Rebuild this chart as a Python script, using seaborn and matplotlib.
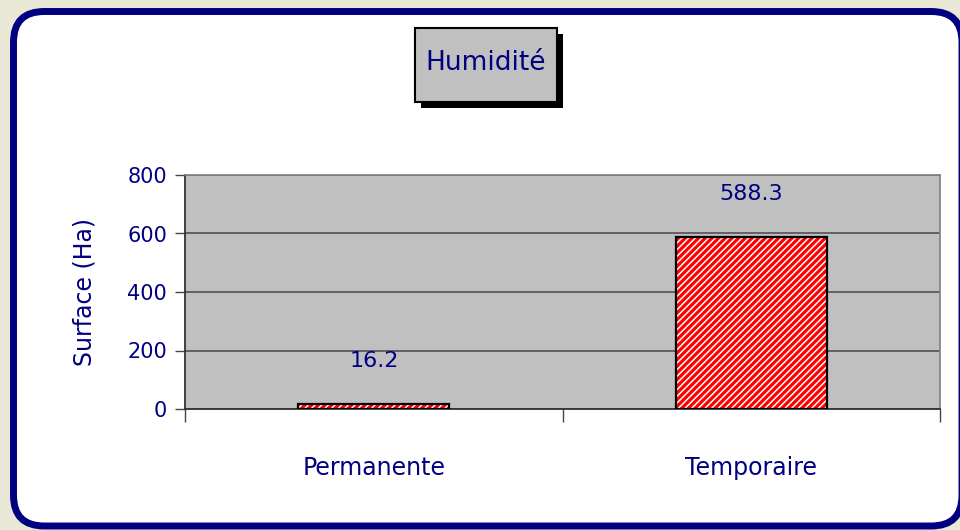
import matplotlib
matplotlib.use('Agg')
import matplotlib.pyplot as plt
import matplotlib.patches as mpatches
import matplotlib.patheffects as pe
import pandas as pd
import seaborn as sns

# Data
categories = ['Permanente', 'Temporaire']
surface = [16.2, 588.3]
y_ticks = [0, 200, 400, 600, 800]

df = pd.DataFrame({'type': categories, 'surface': surface})

navy = '#000080'
sns.set_style('white')
plt.rcParams['font.family'] = ['DejaVu Sans']
plt.rcParams['hatch.linewidth'] = 1.1

fig = plt.figure(figsize=(9.6, 5.3), dpi=100)
fig.patch.set_facecolor('#e9e8d6')

# White rounded panel with navy border (behind everything)
panel = mpatches.FancyBboxPatch((13.5 / 960, 4 / 530), 948.5 / 960, 514.5 / 530,
                                boxstyle='round,pad=0,rounding_size=0.032',
                                transform=fig.transFigure, facecolor='white',
                                edgecolor=navy, linewidth=5, zorder=-5,
                                mutation_aspect=960 / 530)
fig.patches.append(panel)

ax = fig.add_axes([185 / 960, 1 - 409 / 530, 755 / 960, 234 / 530])
ax.set_zorder(1)
ax.set_facecolor('#c0c0c0')

# hatched red bars with white stripes, then a black outline on top
sns.barplot(data=df, x='type', y='surface', ax=ax, color='red', saturation=1,
            width=0.4, edgecolor='white', linewidth=0, hatch='/////', zorder=3)
sns.barplot(data=df, x='type', y='surface', ax=ax, fill=False, width=0.4,
            edgecolor='black', linewidth=1.6, zorder=4)

for i, v in enumerate(surface):
    ax.annotate(f'{v}', (i, v), xytext=(0, 31), textcoords='offset points',
                ha='center', va='center', fontsize=16, color=navy)

ax.set_ylim(0, 800)
ax.set_xlim(-0.5, 1.5)
ax.set_yticks(y_ticks)
ax.yaxis.grid(True, color='#5a5a5a', linewidth=1.3, zorder=1)
ax.set_axisbelow(True)

ax.set_xticks(range(len(categories)))
ax.set_xticklabels(categories, fontsize=17, color=navy)
ax.set_xticks([-0.5, 0.5, 1.5], minor=True)
ax.tick_params(axis='x', which='major', length=0, pad=34)
ax.tick_params(axis='x', which='minor', length=9, width=1, color='#444444',
               direction='out', bottom=True)
ax.tick_params(axis='y', length=7, width=1, color='#444444', direction='out',
               labelsize=15, labelcolor=navy, left=True, pad=6)

ax.set_xlabel('')
ax.set_ylabel('Surface (Ha)', fontsize=17, color=navy, labelpad=22)

for side in ['left', 'bottom']:
    ax.spines[side].set_color('#333333')
    ax.spines[side].set_linewidth(1.3)
for side in ['top', 'right']:
    ax.spines[side].set_visible(True)
    ax.spines[side].set_color('#808080')
    ax.spines[side].set_linewidth(1.2)

# Title box with drop shadow
box = mpatches.Rectangle((415 / 960, 1 - 102 / 530), 142 / 960, 74 / 530,
                         transform=fig.transFigure, facecolor='#c0c0c0',
                         edgecolor='black', linewidth=1.5, zorder=5)
box.set_path_effects([pe.SimplePatchShadow(offset=(4, -4), shadow_rgbFace='black', alpha=1),
                      pe.Normal()])
fig.patches.append(box)
fig.text(486 / 960, 1 - 63 / 530, 'Humidité', ha='center', va='center',
         fontsize=19, color=navy, zorder=6)

fig.savefig('out.png', dpi=100, facecolor=fig.get_facecolor())
